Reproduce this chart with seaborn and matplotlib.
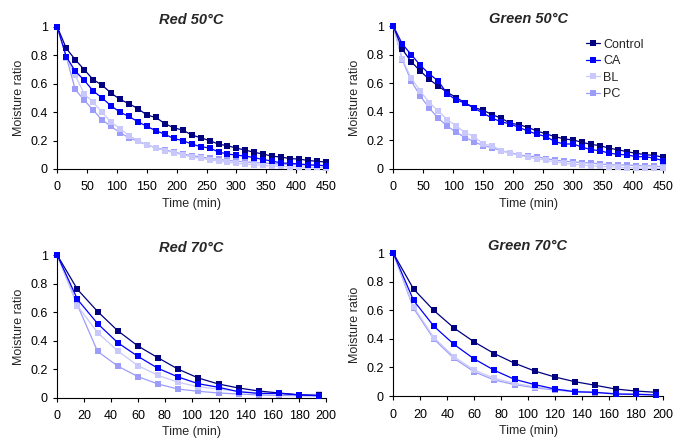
import matplotlib
matplotlib.use("Agg")
import pandas as pd
import matplotlib.pyplot as plt
import seaborn as sns
from matplotlib.ticker import FuncFormatter

# time axes (min)
time_50 = [0, 15, 30, 45, 60, 75, 90, 105, 120, 135, 150, 165, 180, 195, 210,
           225, 240, 255, 270, 285, 300, 315, 330, 345, 360, 375, 390, 405, 420, 435, 450]
time_70 = [0, 15, 30, 45, 60, 75, 90, 105, 120, 135, 150, 165, 180, 195]

treatments = ["Control", "CA", "BL", "PC"]

# Red 50°C
red50_control = [1, 0.85, 0.77, 0.70, 0.63, 0.59, 0.535, 0.49, 0.46, 0.425, 0.38, 0.363, 0.32, 0.29, 0.274,
                 0.24, 0.22, 0.20, 0.175, 0.164, 0.147, 0.133, 0.117, 0.105, 0.09, 0.084, 0.073, 0.07, 0.06, 0.054, 0.049]
red50_ca = [1, 0.79, 0.69, 0.625, 0.55, 0.50, 0.445, 0.40, 0.37, 0.333, 0.30, 0.27, 0.245, 0.215, 0.20,
            0.176, 0.157, 0.148, 0.12, 0.105, 0.098, 0.09, 0.08, 0.066, 0.056, 0.042, 0.04, 0.035, 0.03, 0.026, 0.023]
red50_bl = [1, 0.78, 0.66, 0.53, 0.47, 0.40, 0.33, 0.285, 0.235, 0.20, 0.17, 0.148, 0.13, 0.115, 0.10,
            0.085, 0.075, 0.065, 0.055, 0.047, 0.04, 0.035, 0.03, 0.025, 0.022, 0.019, 0.016, 0.014, 0.012, 0.011, 0.01]
red50_pc = [1, 0.79, 0.56, 0.485, 0.415, 0.345, 0.30, 0.255, 0.22, 0.195, 0.17, 0.15, 0.135, 0.12, 0.105,
            0.095, 0.085, 0.075, 0.068, 0.06, 0.055, 0.05, 0.045, 0.042, 0.038, 0.035, 0.032, 0.03, 0.028, 0.026, 0.025]

# Green 50°C
green50_control = [1, 0.837, 0.75, 0.685, 0.627, 0.58, 0.536, 0.50, 0.46, 0.43, 0.41, 0.38, 0.355, 0.32, 0.31,
                   0.29, 0.265, 0.245, 0.226, 0.21, 0.203, 0.186, 0.172, 0.163, 0.145, 0.135, 0.12, 0.11, 0.10, 0.095, 0.082]
green50_ca = [1, 0.874, 0.80, 0.725, 0.665, 0.615, 0.525, 0.483, 0.46, 0.425, 0.39, 0.355, 0.33, 0.315, 0.29,
              0.265, 0.243, 0.226, 0.19, 0.175, 0.175, 0.152, 0.135, 0.128, 0.11, 0.103, 0.098, 0.086, 0.086, 0.075, 0.058]
green50_bl = [1, 0.767, 0.635, 0.545, 0.465, 0.405, 0.345, 0.30, 0.255, 0.225, 0.175, 0.163, 0.128, 0.11, 0.096,
              0.082, 0.072, 0.06, 0.05, 0.04, 0.033, 0.028, 0.023, 0.018, 0.016, 0.012, 0.01, 0.008, 0.005, 0.005, 0.005]
green50_pc = [1, 0.762, 0.615, 0.51, 0.425, 0.355, 0.30, 0.256, 0.22, 0.19, 0.163, 0.15, 0.126, 0.115, 0.098,
              0.09, 0.086, 0.072, 0.063, 0.054, 0.05, 0.044, 0.042, 0.035, 0.03, 0.028, 0.028, 0.023, 0.023, 0.02, 0.016]

# Red 70°C
red70_control = [1, 0.76, 0.605, 0.47, 0.363, 0.28, 0.20, 0.138, 0.096, 0.068, 0.047, 0.033, 0.02, 0.016]
red70_ca = [1, 0.69, 0.52, 0.386, 0.29, 0.206, 0.145, 0.098, 0.073, 0.042, 0.03, 0.03, 0.02, 0.014]
red70_bl = [1, 0.645, 0.457, 0.328, 0.225, 0.157, 0.108, 0.077, 0.06, 0.045, 0.033, 0.026, 0.02, 0.025]
red70_pc = [1, 0.65, 0.325, 0.222, 0.148, 0.096, 0.06, 0.045, 0.033, 0.026, 0.019, 0.016, 0.014, 0.012]

# Green 70°C
green70_control = [1, 0.75, 0.60, 0.477, 0.379, 0.297, 0.23, 0.175, 0.133, 0.10, 0.075, 0.049, 0.035, 0.026]
green70_ca = [1, 0.67, 0.49, 0.362, 0.26, 0.18, 0.117, 0.08, 0.049, 0.03, 0.026, 0.014, 0.012, 0.007]
green70_bl = [1, 0.626, 0.41, 0.276, 0.182, 0.124, 0.089, 0.065, 0.049, 0.035, 0.026, 0.019, 0.014, 0.01]
green70_pc = [1, 0.615, 0.40, 0.264, 0.17, 0.112, 0.08, 0.058, 0.042, 0.03, 0.023, 0.016, 0.012, 0.009]

colors = {"Control": "#000080", "CA": "#0000ff", "BL": "#c8c8fc", "PC": "#9c9cfa"}
zorders = {"Control": 4, "CA": 5, "BL": 3, "PC": 2}

panels = [
    ("Red 50°C", time_50, [red50_control, red50_ca, red50_bl, red50_pc], 450, 50),
    ("Green 50°C", time_50, [green50_control, green50_ca, green50_bl, green50_pc], 450, 50),
    ("Red 70°C", time_70, [red70_control, red70_ca, red70_bl, red70_pc], 200, 20),
    ("Green 70°C", time_70, [green70_control, green70_ca, green70_bl, green70_pc], 200, 20),
]

# axes positions in figure fraction (left, bottom, width, height)
positions = [
    [0.0839, 0.6168, 0.3934, 0.322],
    [0.5759, 0.6168, 0.3953, 0.324],
    [0.0839, 0.0982, 0.3934, 0.323],
    [0.5759, 0.1020, 0.3944, 0.3236],
]

sns.set_style("ticks")
plt.rcParams["font.family"] = ["Liberation Sans", "DejaVu Sans"]

fig = plt.figure(figsize=(6.83, 4.41), dpi=100)
fs = 9

for i, (title, t, series, xmax, xstep) in enumerate(panels):
    ax = fig.add_axes(positions[i])
    for name, vals in zip(treatments, series):
        df = pd.DataFrame({"Time": t, "MR": vals})
        sns.lineplot(data=df, x="Time", y="MR", ax=ax, color=colors[name], label=name,
                     marker="s", markersize=4.2, markeredgewidth=0, linewidth=0.9,
                     zorder=zorders[name], clip_on=False)
    ax.set_xlim(0, xmax)
    ax.set_ylim(0, 1)
    ax.set_xticks(range(0, xmax + 1, xstep))
    ax.set_yticks([0, 0.2, 0.4, 0.6, 0.8, 1])
    ax.yaxis.set_major_formatter(FuncFormatter(lambda v, p: "{:g}".format(round(v, 2))))
    ax.tick_params(labelsize=fs, length=3, width=0.8, colors="black")
    ax.tick_params(axis="x", pad=6)
    ax.tick_params(axis="y", pad=4)
    ax.set_xlabel("Time (min)", fontsize=fs, labelpad=3)
    ax.set_ylabel("Moisture ratio", fontsize=fs, labelpad=4)
    ax.set_title(title, fontsize=10.5, fontweight="bold", fontstyle="italic", pad=1.5)
    sns.despine(ax=ax)
    for s in ["left", "bottom"]:
        ax.spines[s].set_linewidth(0.8)
        ax.spines[s].set_color("black")
    if i == 1:
        ax.legend(loc="upper right", bbox_to_anchor=(0.97, 0.99), frameon=False, fontsize=fs,
                  handlelength=1.1, handletextpad=0.3, labelspacing=0.35)
    else:
        ax.get_legend().remove()

fig.savefig("out.png", dpi=100)
